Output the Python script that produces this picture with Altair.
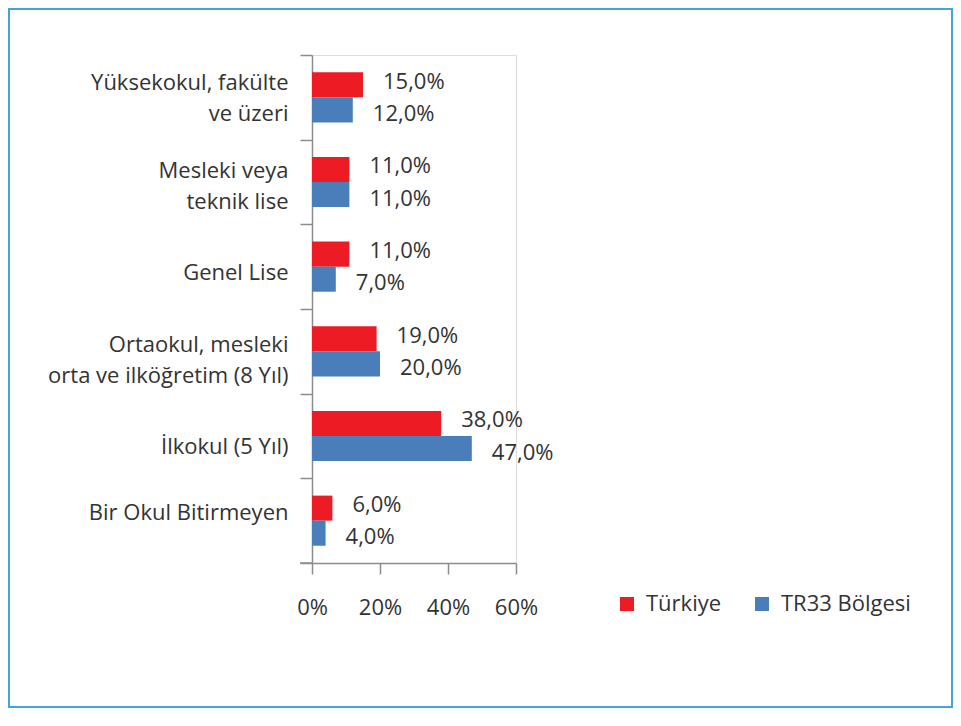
import altair as alt
import pandas as pd

categories = [
    "Yüksekokul, fakülte|ve üzeri",
    "Mesleki veya|teknik lise",
    "Genel Lise",
    "Ortaokul, mesleki|orta ve ilköğretim (8 Yıl)",
    "İlkokul (5 Yıl)",
    "Bir Okul Bitirmeyen",
]
series = ["Türkiye", "TR33 Bölgesi"]
turkiye = [15.0, 11.0, 11.0, 19.0, 38.0, 6.0]
tr33 = [12.0, 11.0, 7.0, 20.0, 47.0, 4.0]
x_ticks = [0, 20, 40, 60]
colors = ["#ED1C24", "#4A7EBB"]

rows = []
for c, a, b in zip(categories, turkiye, tr33):
    for s, v in zip(series, [a, b]):
        rows.append({"cat": c, "series": s, "value": v,
                     "label": f"{v:.1f}".replace(".", ",") + "%"})
df = pd.DataFrame(rows)

FONT = "Open Sans"
TXT = "#333333"
AX = "#8c8c8c"
W, H = 204, 508
FS = 22

# label placement offsets (px) per category, as in the original layout
label_shift = [-15, -12, 6, -7, 10, -8]
label_offset = {
    "condition": [
        {"test": f"datum.value == '{c}'", "value": o}
        for c, o in zip(categories, label_shift)
    ],
    "value": 0,
}

y_enc = alt.Y(
    "cat:N", sort=categories,
    scale=alt.Scale(paddingInner=0, paddingOuter=0),
    axis=alt.Axis(title=None,
                  labelExpr="isValid(datum.value) ? split(datum.value, '|') : ''",
                  tickBand="extent", labelFontSize=FS, labelColor=TXT,
                  labelFont=FONT, labelLineHeight=31, labelPadding=12,
                  labelOffset=label_offset,
                  tickSize=12, tickColor=AX, domainColor=AX, domainWidth=1.5,
                  tickWidth=1.5, labelLimit=400),
)
yoff = alt.YOffset("series:N", sort=series,
                   scale=alt.Scale(domain=series, paddingInner=0, paddingOuter=0.69))
x_enc = alt.X(
    "value:Q", scale=alt.Scale(domain=[0, 60], nice=False),
    axis=alt.Axis(values=x_ticks, title=None, labelExpr="datum.value + '%'",
                  grid=False, tickSize=11, labelPadding=23, labelFontSize=FS,
                  labelColor=TXT, labelFont=FONT, labelFlush=False,
                  tickColor=AX, domainColor=AX, domainWidth=1.5, tickWidth=1.5),
)
color = alt.Color(
    "series:N", sort=series, scale=alt.Scale(domain=series, range=colors),
    legend=alt.Legend(title=None, orient="none", legendX=304, legendY=538,
                      direction="horizontal", symbolType="square", symbolSize=196,
                      symbolStrokeWidth=0, labelFontSize=FS, labelFont=FONT,
                      labelColor=TXT, columnPadding=29, labelOffset=8, padding=0),
)

base = alt.Chart(df)
bars = base.mark_bar().encode(y=y_enc, yOffset=yoff, x=x_enc, color=color)
t1 = base.transform_filter(alt.datum.series == series[0]).mark_text(
    align="left", baseline="middle", dx=20, dy=-3, fontSize=FS, font=FONT, color=TXT
).encode(y=alt.Y("cat:N", sort=categories), yOffset=yoff, x="value:Q", text="label:N")
t2 = base.transform_filter(alt.datum.series == series[1]).mark_text(
    align="left", baseline="middle", dx=20, dy=4, fontSize=FS, font=FONT, color=TXT
).encode(y=alt.Y("cat:N", sort=categories), yOffset=yoff, x="value:Q", text="label:N")

one = pd.DataFrame({"a": [0]})
ext = alt.Chart(one).mark_rule(color=AX, strokeWidth=1.5).encode(
    x=alt.value(-12), x2=alt.value(0), y=alt.value(H))
border = alt.Chart(one).mark_rect(fillOpacity=0, stroke="#41A5DC", strokeWidth=2).encode(
    x=alt.value(-303), x2=alt.value(640), y=alt.value(-46), y2=alt.value(652))

chart = alt.layer(border, bars, t1, t2, ext).properties(
    width=W, height=H,
    autosize=alt.AutoSizeParams(type="none"),
    padding={"left": 304, "top": 47, "right": 437, "bottom": 145},
).configure_view(stroke=None).configure(font=FONT)

chart.save("out.html", embed_options={"renderer": "svg", "actions": False})
